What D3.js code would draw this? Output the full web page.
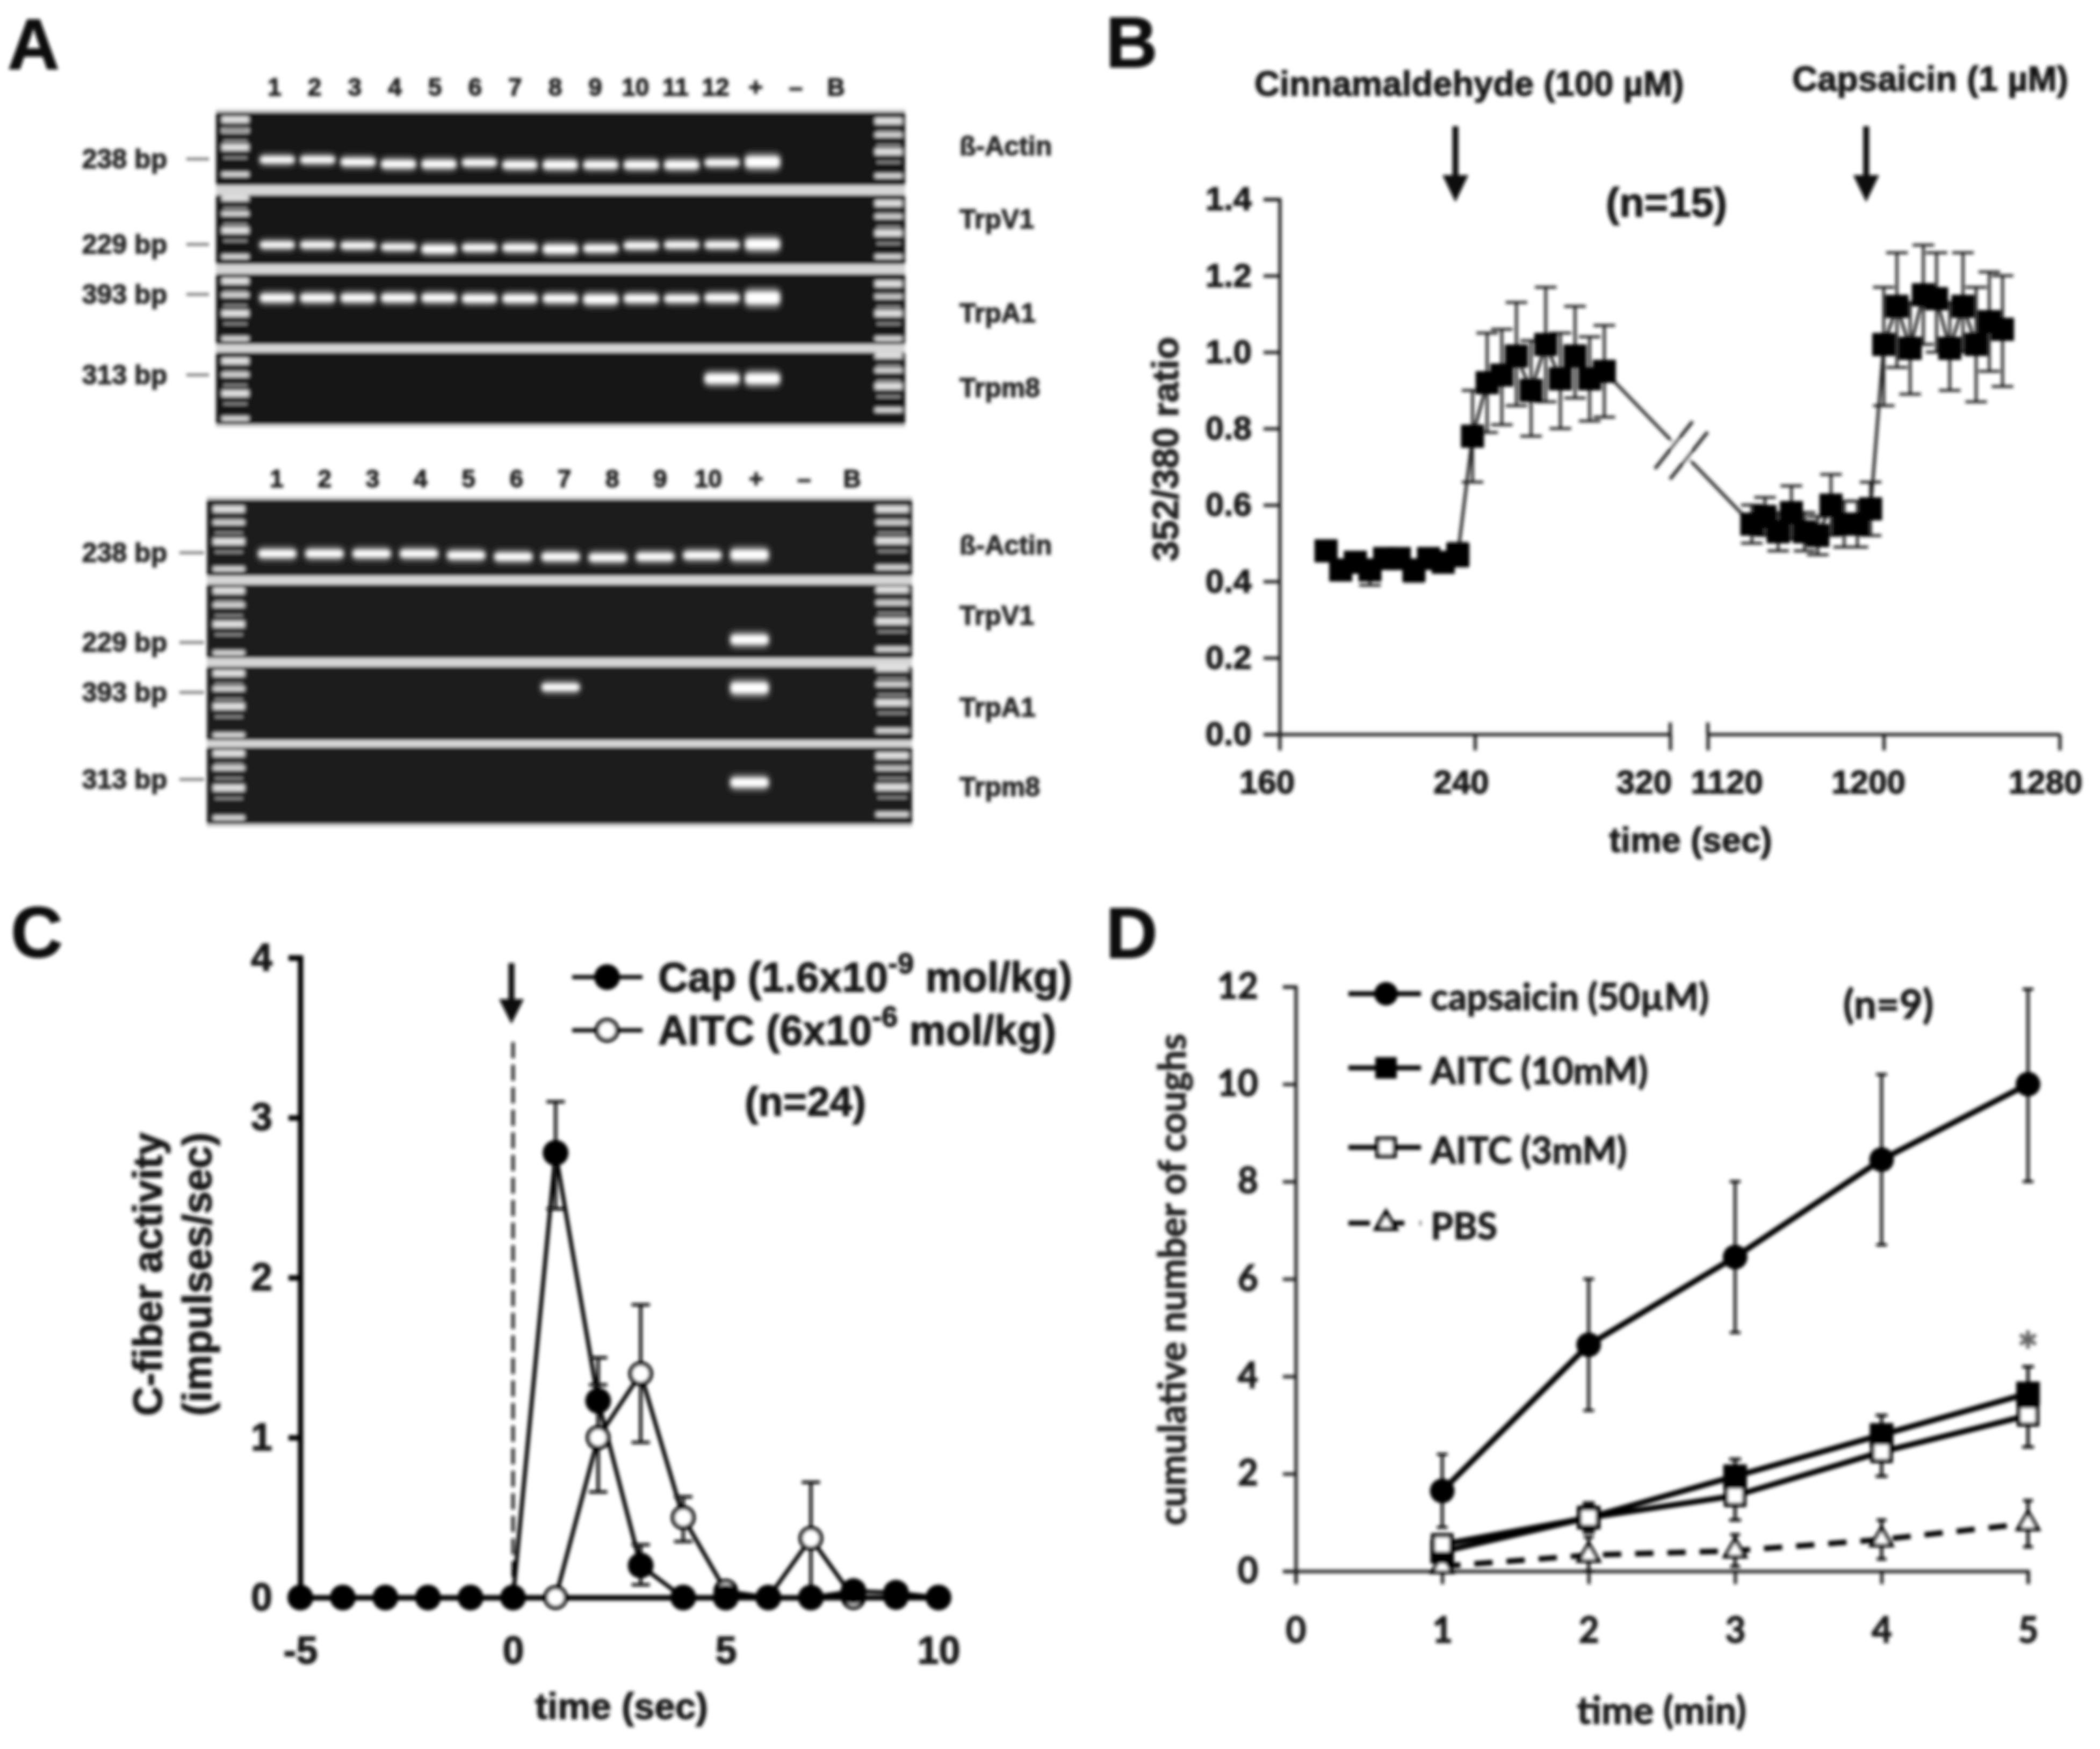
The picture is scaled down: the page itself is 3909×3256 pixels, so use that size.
<!DOCTYPE html>
<html><head><meta charset="utf-8">
<script src="https://cdnjs.cloudflare.com/ajax/libs/d3/7.8.5/d3.min.js"></script>
<style>html,body{margin:0;padding:0;background:#fff}svg{display:block}</style></head>
<body><svg id="c" width="3909" height="3256" xmlns="http://www.w3.org/2000/svg"></svg>
<script>
// ---------- Panel A data ----------
const laneLabelsTop = ["1","2","3","4","5","6","7","8","9","10","11","12","+","–","B"];
const laneLabelsBottom = ["1","2","3","4","5","6","7","8","9","10","+","–","B"];
const geneNames = ["ß-Actin","TrpV1","TrpA1","Trpm8"];
const ampliconsBp = ["238 bp","229 bp","393 bp","313 bp"];
// migration of each band as a fraction of the strip height, null = no band
const gelTopActin = [.65,.65,.68,.71,.71,.69,.72,.72,.72,.72,.72,.69,.68];
const gelTopV1    = [.72,.72,.73,.75,.78,.76,.76,.78,.77,.73,.72,.72,.71];
const gelTopA1    = [.34,.34,.34,.34,.34,.35,.35,.35,.36,.35,.35,.34,.34];
const gelTopM8    = [null,null,null,null,null,null,null,null,null,null,null,.365,.365];
const gelBotActin = [.71,.71,.71,.71,.73,.75,.75,.76,.75,.73,.725];
const gelBotV1    = [null,null,null,null,null,null,null,null,null,null,.75];
const gelBotA1    = [null,null,null,null,null,null,.28,null,null,null,.29];
const gelBotM8    = [null,null,null,null,null,null,null,null,null,null,.46];
// band brightness / thickness per lane
const gelTopActinW = [.85,.85,.95,1,1,.85,.95,1.05,.95,1,1.05,.85,1.5];
const gelTopV1W    = [.8,.8,.8,.75,1.05,.85,.9,1.1,.9,.85,.8,.8,1.4];
const gelTopA1W    = [1,1,1,1,1,1,1,1,1.2,1,.9,1,1.7];
const gelTopM8W    = [0,0,0,0,0,0,0,0,0,0,0,1.3,1.4];
const gelBotActinW = [1,1,1,1,1,1,1,1,1,1,1.35];
const gelBotV1W    = [0,0,0,0,0,0,0,0,0,0,1.3];
const gelBotA1W    = [0,0,0,0,0,0,.95,0,0,0,1.5];
const gelBotM8W    = [0,0,0,0,0,0,0,0,0,0,1.25];
const ladderTopLeft  = [[.10,.25,.48,.85],[.04,.27,.51,.89],[.10,.30,.56,.92],[.12,.31,.57,.92]];
const ladderTopRight = [[.12,.31,.54,.87],[.12,.31,.55,.89],[.14,.32,.56,.92],[.04,.25,.47,.80]];
const ladderBotLeft  = [[.125,.30,.55,.91],[.085,.28,.54,.93],[.09,.30,.54,.93],[.08,.27,.53,.92]];
const ladderBotRight = [[.125,.30,.54,.89],[.07,.25,.50,.88],[.02,.24,.49,.87],[.11,.27,.52,.875]];

// ---------- Panel B data ----------
const bTime   = [179,185,191,197,203,209,215,221,227,233,239,245,251,257,263,269,275,281,287,293,
                 1140,1146,1152,1158,1164,1170,1176,1182,1188,1194,1200,1206,1212,1218,1224,1230,1236,1242,1248,1254];
const bRatio  = [.48,.43,.45,.43,.46,.46,.43,.46,.45,.47,.78,.92,.94,.99,.90,1.02,.93,.99,.93,.95,
                 .55,.57,.53,.58,.53,.52,.60,.55,.55,.59,1.02,1.12,1.01,1.15,1.14,1.01,1.12,1.02,1.08,1.06];
const bHi     = [.50,.45,.47,.45,.48,.48,.45,.48,.47,.50,.90,1.05,1.06,1.13,1.03,1.17,1.05,1.12,1.04,1.07,
                 .60,.62,.58,.65,.58,.57,.68,.61,.61,.66,1.17,1.26,1.13,1.28,1.26,1.13,1.26,1.17,1.21,1.20];
const bLo     = [.46,.41,.43,.39,.44,.44,.40,.44,.43,.44,.66,.79,.81,.86,.78,.87,.80,.88,.82,.83,
                 .50,.52,.48,.51,.48,.47,.52,.49,.49,.52,.86,.96,.89,1.02,1.00,.90,1.00,.87,.95,.91];
const bYTicks = [0,.2,.4,.6,.8,1,1.2,1.4];
const bXTicks = [160,240,320,1120,1200,1280];
const bArrows = [232,1192];

// ---------- Panel C data ----------
const cTime  = [-5,-4,-3,-2,-1,0,1,2,3,4,5,6,7,8,9,10];
const cCap   = [0,0,0,0,0,0,2.78,1.23,.2,0,0,0,0,.04,.03,0];
const cCapHi = [0,0,0,0,0,0,3.1,1.5,.33,0,0,0,0,.06,.06,0];
const cCapLo = [0,0,0,0,0,0,2.43,.95,.08,0,0,0,0,.02,0,0];
const cAitc  = [0,0,0,0,0,0,0,1.0,1.4,.5,.04,0,.37,0,0,0];
const cAitcHi= [0,0,0,0,0,0,0,1.33,1.83,.63,.06,0,.72,0,0,0];
const cAitcLo= [0,0,0,0,0,0,0,.66,.97,.35,.02,0,0,0,0,0];
const cXTicks = [-5,0,5,10];
const cYTicks = [0,1,2,3,4];

// ---------- Panel D data ----------
const dTime   = [1,2,3,4,5];
const dCaps   = [1.65,4.65,6.45,8.45,10];
const dCapsHi = [2.4,6,8,10.2,11.95];
const dCapsLo = [.9,3.3,4.9,6.7,8];
const dA10    = [.4,1.1,1.95,2.8,3.65];
const dA10Hi  = [.6,1.35,2.3,3.2,4.2];
const dA10Lo  = [.2,.85,1.6,2.4,3.1];
const dA3     = [.55,1.1,1.55,2.45,3.2];
const dA3Hi   = [.75,1.4,2.05,2.95,3.85];
const dA3Lo   = [.35,.8,1.05,1.95,2.55];
const dPbs    = [.1,.33,.42,.65,.98];
const dPbsHi  = [.3,.7,.75,1.05,1.45];
const dPbsLo  = [0,0,.1,.25,.5];
const dXTicks = [0,1,2,3,4,5];
const dYTicks = [0,2,4,6,8,10,12];

// ---------- drawing ----------
const SANS = "'Liberation Sans',Arial,sans-serif";
const INK = "#141414";
const svg = d3.select("#c");
const defs = svg.append("defs");
function blur(id,sd){defs.append("filter").attr("id",id).attr("filterUnits","userSpaceOnUse")
  .attr("x",0).attr("y",0).attr("width",3909).attr("height",3256)
  .append("feGaussianBlur").attr("stdDeviation",sd);}
blur("soft",3); blur("glow",4.5); blur("soft2",2.2);
const root = svg.append("g").attr("filter","url(#soft)");

function txt(g,x,y,s,size,o={}){
  const fill=o.fill||INK;
  const t=g.append("text").attr("x",x).attr("y",y).text(s)
    .attr("font-family",o.font||SANS).attr("font-weight",o.weight||700)
    .attr("font-size",size).attr("fill",fill).attr("stroke",fill).attr("stroke-width",o.sw===undefined?1.4:o.sw)
    .attr("text-anchor",o.anchor||"start").attr("dominant-baseline","central");
  if(o.rotate) t.attr("transform",`rotate(${o.rotate} ${x} ${y})`);
  if(o.ls) t.attr("letter-spacing",o.ls);
  return t;
}
[["A",14,82],["B",2058,78],["C",20,1735],["D",2058,1736]].forEach(d=>txt(root,d[1],d[2],d[0],134,{fill:"#0c0c0c"}));

// Panel A
function gel(cfg){
  const g=root.append("g");
  g.append("rect").attr("x",cfg.x0).attr("y",cfg.strips[0][0]-6)
    .attr("width",cfg.x1-cfg.x0).attr("height",cfg.strips[3][1]-cfg.strips[0][0]+12).attr("fill","#d6d6d6");
  const labelX=d3.scalePoint().domain(d3.range(cfg.labels.length)).range(cfg.labelRange);
  const laneX=d3.scalePoint().domain(d3.range(cfg.labels.length)).range(cfg.laneRange);
  cfg.labels.forEach((l,i)=>txt(g,labelX(i),cfg.labelY,l,cfg.labelSize,{anchor:"middle",fill:"#222"}));
  const bands=g.append("g");
  cfg.strips.forEach((s,si)=>{
    const y=d3.scaleLinear().domain([0,1]).range(s);
    bands.append("rect").attr("x",cfg.x0).attr("y",s[0]).attr("width",cfg.x1-cfg.x0).attr("height",s[1]-s[0]).attr("fill",cfg.bg);
    [[cfg.ladL,cfg.ladLx],[cfg.ladR,cfg.ladRx]].forEach(([lad,lx])=>{
      lad[si].forEach((f,k)=>bands.append("rect").attr("x",lx[0]).attr("width",lx[1]-lx[0])
        .attr("y",y(f)-(k%2?5:7)).attr("height",k%2?10:14).attr("fill","#e2e2e2").attr("filter","url(#soft2)"));
      lad[si].slice(0,3).forEach(f=>bands.append("rect").attr("x",lx[0]+4).attr("width",lx[1]-lx[0]-8)
        .attr("y",y(f)+17).attr("height",5).attr("fill","#8a8a8a"));
    });
    cfg.bands[si].forEach((f,i)=>{
      if(f===null) return;
      const w=cfg.weights[si][i], hw=cfg.bandW/2;
      bands.append("rect").attr("x",laneX(i)-hw-2).attr("width",cfg.bandW+4).attr("y",y(f)-9*w-3).attr("height",18*w+6)
        .attr("rx",9).attr("fill","#8d8d8d").attr("filter","url(#glow)");
      bands.append("rect").attr("x",laneX(i)-hw).attr("width",cfg.bandW).attr("y",y(f)-6*w).attr("height",12*w)
        .attr("rx",6).attr("fill","#ffffff").attr("filter","url(#soft2)");
    });
    txt(g,cfg.bpX,cfg.bpY[si],ampliconsBp[si],50,{anchor:"middle",fill:"#262626"});
    g.append("line").attr("x1",cfg.tick[0]).attr("x2",cfg.tick[1]).attr("y1",cfg.bpY[si]).attr("y2",cfg.bpY[si])
      .attr("stroke","#777").attr("stroke-width",5);
    txt(g,1786,cfg.geneY[si],geneNames[si],50,{fill:"#262626"});
  });
}
gel({x0:402,x1:1685,strips:[[209,345],[363,492],[510,641],[656,790]],bg:"#181818",
  labels:laneLabelsTop,labelRange:[511,1556],laneRange:[516,1570],labelY:162,labelSize:46,bandW:62,
  ladL:ladderTopLeft,ladR:ladderTopRight,ladLx:[412,464],ladRx:[1628,1680],
  bands:[gelTopActin,gelTopV1,gelTopA1,gelTopM8],weights:[gelTopActinW,gelTopV1W,gelTopA1W,gelTopM8W],
  bpX:232,bpY:[296,455,548,698],tick:[347,389],geneY:[272,408,583,722]});
gel({x0:385,x1:1698,strips:[[930,1072],[1088,1225],[1241,1378],[1391,1534]],bg:"#1f1f1f",
  labels:laneLabelsBottom,labelRange:[515,1586],laneRange:[516,1571],labelY:891,labelSize:46,bandW:68,
  ladL:ladderBotLeft,ladR:ladderBotRight,ladLx:[396,456],ladRx:[1630,1692],
  bands:[gelBotActin,gelBotV1,gelBotA1,gelBotM8],weights:[gelBotActinW,gelBotV1W,gelBotA1W,gelBotM8W],
  bpX:232,bpY:[1029,1196,1289,1451],tick:[334,380],geneY:[1015,1146,1317,1465]});

function styleAxis(a,sw,color,size,font){
  a.selectAll("path,line").attr("stroke",color).attr("stroke-width",sw);
  a.selectAll("text").attr("font-family",font||SANS).attr("font-weight",700)
    .attr("font-size",size).attr("fill",INK).attr("stroke",INK).attr("stroke-width",1.4);
}
function arrow(g,x,y0,y1,sw,hw,hl){
  g.append("line").attr("x1",x).attr("x2",x).attr("y1",y0).attr("y2",y1-hl+2).attr("stroke","#080808").attr("stroke-width",sw);
  g.append("path").attr("d",d3.line()([[x-hw,y1-hl],[x+hw,y1-hl],[x,y1]])+"Z").attr("fill","#080808");
}
function sym(g,type,size,x,y,fill,stroke,sw){
  return g.append("path").attr("d",d3.symbol().type(type).size(size)())
    .attr("transform",`translate(${x},${y})`).attr("fill",fill).attr("stroke",stroke||"none").attr("stroke-width",sw||0);
}
function errs(g,xs,hi,lo,x,y,cap,sw,color){
  xs.forEach((t,i)=>{
    if(hi[i]===lo[i]) return;
    const X=x(t);
    g.append("line").attr("x1",X).attr("x2",X).attr("y1",y(hi[i])).attr("y2",y(lo[i])).attr("stroke",color).attr("stroke-width",sw);
    [hi[i],lo[i]].forEach(v=>g.append("line").attr("x1",X-cap).attr("x2",X+cap).attr("y1",y(v)).attr("y2",y(v)).attr("stroke",color).attr("stroke-width",sw));
  });
}

// Panel B
{
  const g=root.append("g");
  const LINE="#1e1e1e";
  const x=d3.scaleLinear().domain([160,320,1120,1280]).range([2382,3109,3179,3834]);
  const y=d3.scaleLinear().domain([0,1.4]).range([1367,371]);
  const ay=g.append("g").attr("transform","translate(2382,0)")
    .call(d3.axisLeft(y).tickValues(bYTicks).tickSize(30).tickPadding(22).tickFormat(d3.format(".1f")));
  styleAxis(ay,6,LINE,62);
  // the x axis is broken between 320 and 1120
  [[160,320],[1120,1280]].forEach(dom=>{
    const s=d3.scaleLinear().domain(dom).range([x(dom[0]),x(dom[1])]);
    const ax=g.append("g").attr("transform","translate(0,1367)")
      .call(d3.axisBottom(s).tickValues(bXTicks.filter(t=>t>=dom[0]&&t<=dom[1])).tickSize(30).tickPadding(36).tickSizeOuter(0).tickFormat(d3.format("d")));
    styleAxis(ax,6,LINE,62);
    const shift={160:-24,240:-26,320:-49,1120:35,1200:-29,1280:-27};
    ax.selectAll(".tick text").attr("dx",d=>shift[d]);
  });
  [320,1120].forEach(t=>g.append("line").attr("x1",x(t)).attr("x2",x(t)).attr("y1",1367-22).attr("y2",1367).attr("stroke",LINE).attr("stroke-width",6));
  const line=d3.line().x(d=>x(d[0])).y(d=>y(d[1]));
  const pts=bTime.map((t,i)=>[t,bRatio[i]]);
  g.append("path").attr("d",line(pts)).attr("fill","none").attr("stroke",LINE).attr("stroke-width",5.5);
  errs(g,bTime,bHi,bLo,x,y,20,5,LINE);
  pts.forEach(p=>sym(g,d3.symbolSquare,43*43,x(p[0]),y(p[1]),"#050505"));
  // break marks on the connecting segment
  const a=pts[19],b=pts[20];
  const mx=(x(a[0])+x(b[0]))/2+6,my=(y(a[1])+y(b[1]))/2+5;
  g.append("path").attr("d",d3.line()([[mx-16,my-19],[mx+16,my+19]])).attr("stroke","#fff").attr("stroke-width",22);
  [-14,14].forEach(o=>g.append("path").attr("d",d3.line()([[mx+o-35,my+o*.7+44],[mx+o+35,my+o*.7-44]]))
    .attr("stroke",LINE).attr("stroke-width",6).attr("fill","none"));
  bArrows.forEach(t=>arrow(g,x(t),235,376,11,24,50));
  txt(g,2335,155,"Cinnamaldehyde (100 µM)",65);
  txt(g,3336,146,"Capsaicin (1 µM)",65);
  txt(g,3102,376,"(n=15)",76,{anchor:"middle"});
  txt(g,2169,836,"352/380 ratio",69,{anchor:"middle",rotate:-90,fill:"#222"});
  txt(g,3147,1563,"time (sec)",65,{anchor:"middle"});
}

// Panel C
{
  const g=root.append("g");
  const INKL="#050505";
  const x=d3.scaleLinear().domain([-5,10]).range([559,1747]);
  const y=d3.scaleLinear().domain([0,4]).range([2974,1783]);
  const ay=g.append("g").attr("transform","translate(559,0)")
    .call(d3.axisLeft(y).tickValues(cYTicks).tickSize(22).tickPadding(30).tickFormat(d3.format("d")));
  styleAxis(ay,10,INKL,72);
  const ax=g.append("g").attr("transform","translate(0,2974)")
    .call(d3.axisBottom(x).tickValues(cXTicks).tickSize(0).tickPadding(72).tickFormat(String));
  styleAxis(ax,10,INKL,72);
  g.append("line").attr("x1",x(0)).attr("x2",x(0)).attr("y1",1940).attr("y2",2974)
    .attr("stroke","#111").attr("stroke-width",5.5).attr("stroke-dasharray","30,12");
  arrow(g,x(0)-3,1793,1906,11,23,46);
  const line=d3.line().x((d,i)=>x(cTime[i])).y(d=>y(d));
  g.append("path").attr("d",line(cAitc)).attr("fill","none").attr("stroke",INKL).attr("stroke-width",7.5);
  g.append("path").attr("d",line(cCap)).attr("fill","none").attr("stroke",INKL).attr("stroke-width",7.5);
  errs(g,cTime,cAitcHi,cAitcLo,x,y,17,6,"#0a0a0a");
  errs(g,cTime,cCapHi,cCapLo,x,y,17,6,"#0a0a0a");
  const under=cTime.map((t,i)=>Math.abs(cAitc[i]-cCap[i])<=.1);
  cTime.forEach((t,i)=>{ if(under[i]) sym(g,d3.symbolCircle,Math.PI*19*19,x(t),y(cAitc[i]),"#fff",INKL,8); });
  cTime.forEach((t,i)=>sym(g,d3.symbolCircle,Math.PI*24*24,x(t),y(cCap[i]),INKL));
  cTime.forEach((t,i)=>{ if(!under[i]) sym(g,d3.symbolCircle,Math.PI*19*19,x(t),y(cAitc[i]),"#fff",INKL,8); });
  // legend
  const rows=[["Cap (1.6x10","-9"," mol/kg)",d3.symbolCircle,1819,INKL],["AITC (6x10","-6"," mol/kg)",d3.symbolCircle,1918,"#fff"]];
  rows.forEach(r=>{
    g.append("line").attr("x1",1065).attr("x2",1196).attr("y1",r[4]).attr("y2",r[4]).attr("stroke",INKL).attr("stroke-width",7.5);
    if(r[5]==="#fff") sym(g,r[3],Math.PI*19*19,1130,r[4],"#fff",INKL,8);
    else sym(g,r[3],Math.PI*24*24,1130,r[4],INKL);
    const t=txt(g,1225,r[4],r[0],77);
    t.append("tspan").attr("dy",-26).attr("font-size",54).text(r[1]);
    t.append("tspan").attr("dy",26).text(r[2]);
  });
  txt(g,1499,2050,"(n=24)",76,{anchor:"middle"});
  txt(g,1157,3176,"time (sec)",69,{anchor:"middle"});
  txt(g,274,2372,"C-fiber activity",76,{anchor:"middle",rotate:-90});
  txt(g,366,2372,"(impulses/sec)",76,{anchor:"middle",rotate:-90});
}

// Panel D
{
  const FONT="Lato,'Open Sans',sans-serif";
  const g=root.append("g");
  const INKL="#050505";
  const x=d3.scaleLinear().domain([0,5]).range([2412,3775]);
  const y=d3.scaleLinear().domain([0,12]).range([2925,1837]);
  const ay=g.append("g").attr("transform","translate(2412,0)")
    .call(d3.axisLeft(y).tickValues(dYTicks).tickSize(24).tickPadding(46).tickFormat(d3.format("d")));
  styleAxis(ay,6,"#1a1a1a",66,FONT);
  const ax=g.append("g").attr("transform","translate(0,2925)")
    .call(d3.axisBottom(x).tickValues(dXTicks).tickSize(24).tickPadding(62).tickFormat(d3.format("d")));
  styleAxis(ax,6,"#1a1a1a",66,FONT);
  const line=d3.line().x((d,i)=>x(dTime[i])).y(d=>y(d));
  errs(g,dTime,dPbsHi,dPbsLo,x,y,9,6,"#111");
  errs(g,dTime,dA3Hi,dA3Lo,x,y,11,6,"#111");
  errs(g,dTime,dA10Hi,dA10Lo,x,y,11,6,"#111");
  errs(g,dTime,dCapsHi,dCapsLo,x,y,10,5.5,"#111");
  g.append("path").attr("d",line(dPbs)).attr("fill","none").attr("stroke",INKL).attr("stroke-width",10).attr("stroke-dasharray","34,26");
  [dCaps,dA10,dA3].forEach(s=>g.append("path").attr("d",line(s)).attr("fill","none").attr("stroke",INKL).attr("stroke-width",10.5));
  dTime.forEach((t,i)=>{
    sym(g,d3.symbolTriangle,620,x(t),y(dPbs[i]),"#fff",INKL,7);
    sym(g,d3.symbolSquare,44*44,x(t),y(dA10[i]),INKL);
    sym(g,d3.symbolSquare,34*34,x(t),y(dA3[i]),"#fff",INKL,8);
    sym(g,d3.symbolCircle,Math.PI*23*23,x(t),y(dCaps[i]),INKL);
  });
  const rows=[["capsaicin (50µM)",1850,d3.symbolCircle,Math.PI*22*22,INKL,null],
              ["AITC (10mM)",1988,d3.symbolSquare,40*40,INKL,null],
              ["AITC (3mM)",2136,d3.symbolSquare,32*32,"#fff",INKL],
              ["PBS",2277,d3.symbolTriangle,560,"#fff",INKL]];
  rows.forEach((r,i)=>{
    const l=g.append("line").attr("x1",2510).attr("x2",2645).attr("y1",r[1]).attr("y2",r[1]).attr("stroke",INKL).attr("stroke-width",i==3?9:9);
    if(i==3) l.attr("stroke-dasharray","40,34,30,29,8,0");
    sym(g,r[2],r[3],2580,r[1],r[4],r[5],r[5]?8:0);
    txt(g,2663,r[1]+3,r[0],68,{font:FONT});
  });
  txt(g,3515,1867,"(n=9)",74,{anchor:"middle",font:FONT});
  txt(g,x(5),2512,"*",96,{anchor:"middle",font:FONT,fill:"#666"});
  txt(g,3093,3181,"time (min)",71,{anchor:"middle",font:FONT});
  txt(g,2180,2382,"cumulative number of coughs",70,{anchor:"middle",rotate:-90,font:FONT,fill:"#222"});
}
</script></body></html>
